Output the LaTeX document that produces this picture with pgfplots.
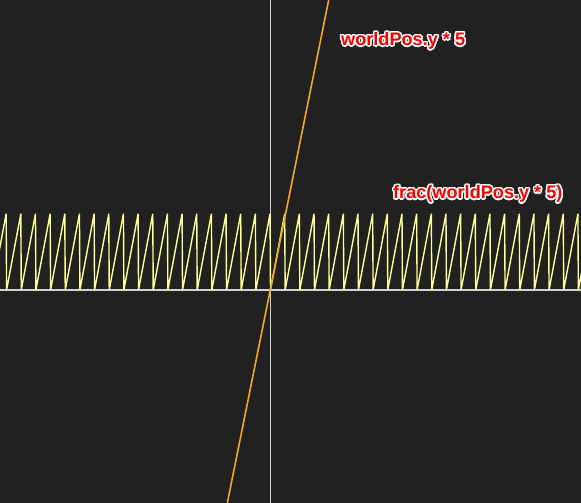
\documentclass[border=0pt]{standalone}
\usepackage{pgfplots}
\pgfplotsset{compat=1.18}
\usepackage{fontspec}
\setmainfont{Liberation Sans}
\usepackage{contour}
\contourlength{1.4pt}
\contournumber{24}

\definecolor{bgcol}{RGB}{33,33,33}
\definecolor{axiscol}{RGB}{210,210,210}
\definecolor{linecol}{RGB}{245,166,35}
\definecolor{sawcol}{RGB}{255,255,150}

\newcommand{\lbl}[1]{\contour{white}{\textcolor{red}{#1}}}

\begin{document}
\begin{tikzpicture}
  \begin{axis}[
    scale only axis,
    width=581bp, height=503bp,
    xmin=-3.69, xmax=4.236,
    ymin=-2.766, ymax=3.766,
    ticks=none,
    axis line style={draw=none},
    axis background/.style={fill=bgcol},
    clip=true,
    ]

    % zero lines
    \addplot[axiscol, line width=1.5bp] coordinates {(-4,0) (4.5,0)};
    \addplot[axiscol, line width=1.5bp] coordinates {(0,-3) (0,4)};

    % frac(worldPos.y * 5)
    \addplot[sawcol, line width=1.4bp, line join=bevel] coordinates {
      (-3.8,0)
      (-3.606,0.99) (-3.6,0) (-3.406,0.99) (-3.4,0) (-3.206,0.99) (-3.2,0)
      (-3.006,0.99) (-3.0,0) (-2.806,0.99) (-2.8,0) (-2.606,0.99) (-2.6,0)
      (-2.406,0.99) (-2.4,0) (-2.206,0.99) (-2.2,0) (-2.006,0.99) (-2.0,0)
      (-1.806,0.99) (-1.8,0) (-1.606,0.99) (-1.6,0) (-1.406,0.99) (-1.4,0)
      (-1.206,0.99) (-1.2,0) (-1.006,0.99) (-1.0,0) (-0.806,0.99) (-0.8,0)
      (-0.606,0.99) (-0.6,0) (-0.406,0.99) (-0.4,0) (-0.206,0.99) (-0.2,0)
      (-0.006,0.99) (0.0,0)
      (0.194,0.99) (0.2,0) (0.394,0.99) (0.4,0) (0.594,0.99) (0.6,0)
      (0.794,0.99) (0.8,0) (0.994,0.99) (1.0,0) (1.194,0.99) (1.2,0)
      (1.394,0.99) (1.4,0) (1.594,0.99) (1.6,0) (1.794,0.99) (1.8,0)
      (1.994,0.99) (2.0,0) (2.194,0.99) (2.2,0) (2.394,0.99) (2.4,0)
      (2.594,0.99) (2.6,0) (2.794,0.99) (2.8,0) (2.994,0.99) (3.0,0)
      (3.194,0.99) (3.2,0) (3.394,0.99) (3.4,0) (3.594,0.99) (3.6,0)
      (3.794,0.99) (3.8,0) (3.994,0.99) (4.0,0) (4.194,0.99) (4.2,0)
      (4.394,0.99) (4.4,0)
    };

    % worldPos.y * 5
    \addplot[linecol, line width=1.6bp] coordinates {(-0.630,-2.96) (0.835,3.96)};

    \node[anchor=west, inner sep=0pt, font=\bfseries\fontsize{18.2}{20}\selectfont]
      at (axis cs:0.962,3.225) {\lbl{worldPos.y * 5}};
    \node[anchor=west, inner sep=0pt, font=\bfseries\fontsize{18.2}{20}\selectfont]
      at (axis cs:1.671,1.238) {\lbl{frac(worldPos.y * 5)}};
  \end{axis}
\end{tikzpicture}
\end{document}
